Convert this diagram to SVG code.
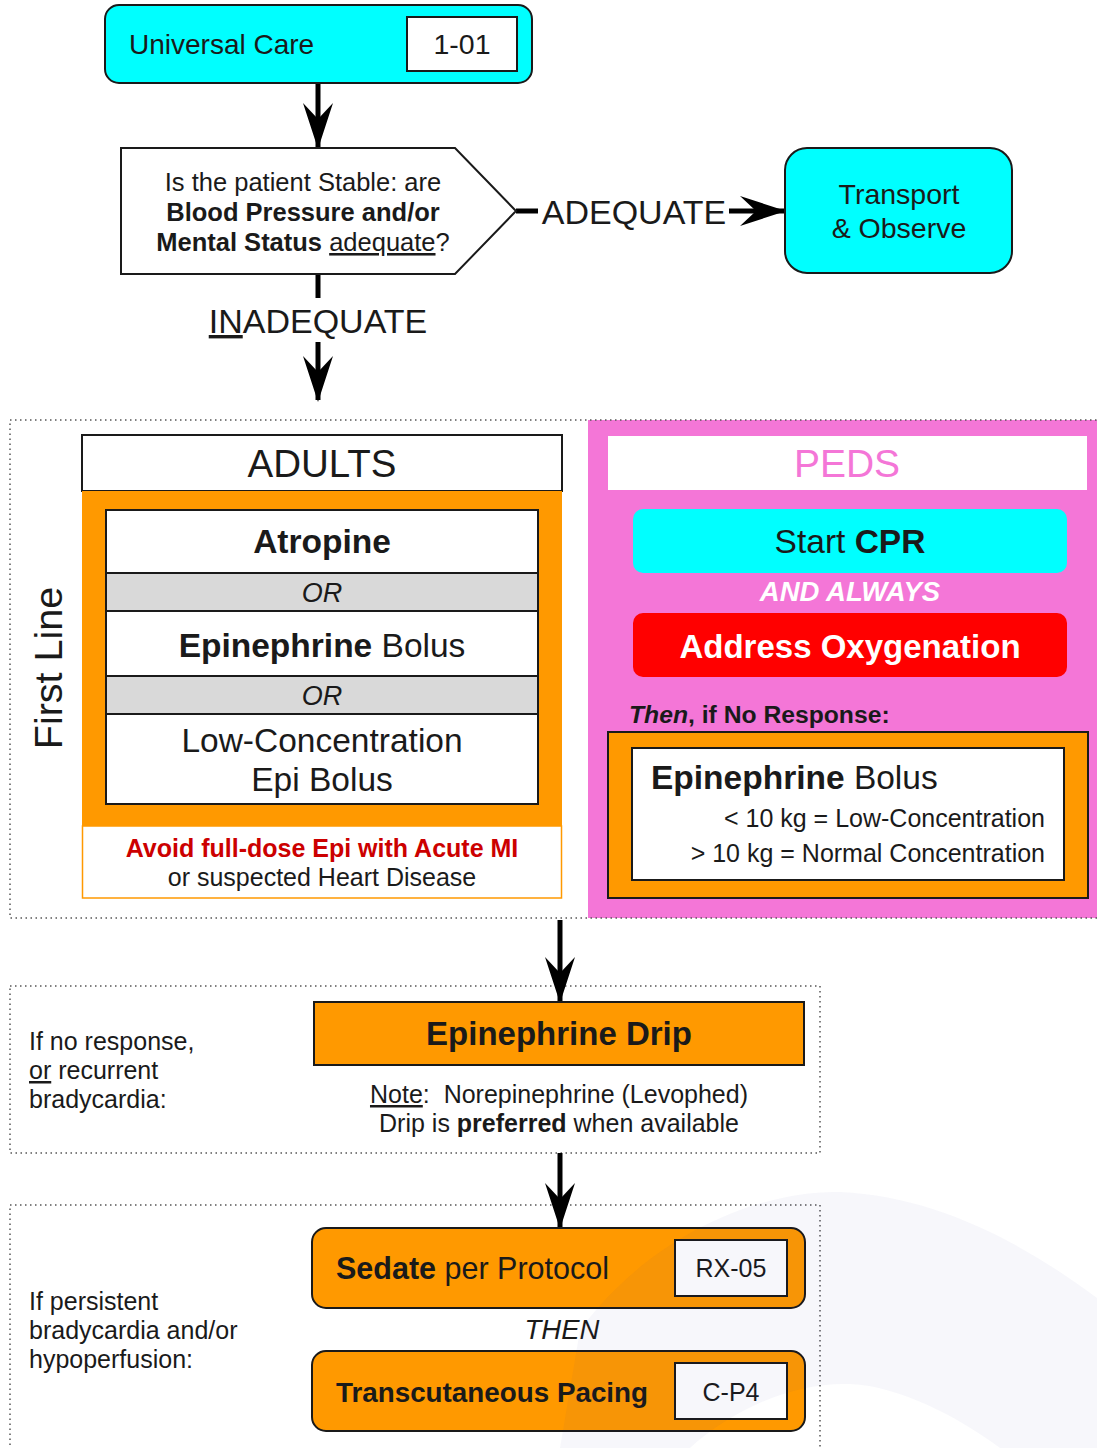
<svg xmlns="http://www.w3.org/2000/svg" width="1097" height="1448" viewBox="0 0 1097 1448">
<style>
  text { font-family: "Liberation Sans", Arial, sans-serif; fill: #1a1a1a; }
  .b { font-weight: bold; }
  .i { font-style: italic; }
  .c { text-anchor: middle; }
  .r { text-anchor: end; }
  .box { stroke: #1a1a1a; stroke-width: 2; }
  .cyan { fill: #00FFFF; }
  .orange { fill: #FF9900; }
  .white { fill: #FFFFFF; }
  .grey { fill: #D9D9D9; }
  .dotted { fill: none; stroke: #555; stroke-width: 1.5; stroke-dasharray: 1.5 3.5; }
  .conn { stroke: #000; stroke-width: 5; fill: none; }
  .u { text-decoration: underline; }
</style>
<defs>
  <marker id="arr" markerUnits="userSpaceOnUse" markerWidth="46" markerHeight="32" viewBox="0 0 46 32" refX="44" refY="16" orient="auto">
    <path d="M0,1 L46,16 L0,31 L16,16 Z" fill="#000"/>
  </marker>
</defs>

<rect width="1097" height="1448" fill="#fff"/>

<!-- section backgrounds -->
<g id="first-line-section">
  <rect x="588" y="420" width="509" height="498" fill="#F476D7"/>
  <rect class="dotted" x="10" y="420" width="1092" height="498"/>
  <text transform="translate(62,668) rotate(-90)" class="c" font-size="39.5">First Line</text>
</g>
<g id="drip-section">
  <rect class="dotted" x="10" y="986" width="810" height="167"/>
  <text x="29" y="1050" font-size="25">If no response,</text>
  <text x="29" y="1079" font-size="25"><tspan class="u">or</tspan> recurrent</text>
  <text x="29" y="1108" font-size="25">bradycardia:</text>
</g>
<g id="pacing-section">
  <rect class="dotted" x="10" y="1205" width="810" height="260"/>
  <text x="29" y="1310" font-size="25">If persistent</text>
  <text x="29" y="1339" font-size="25">bradycardia and/or</text>
  <text x="29" y="1368" font-size="25">hypoperfusion:</text>
</g>

<!-- connectors -->
<g id="connectors">
  <line class="conn" x1="318" y1="83" x2="318" y2="147" marker-end="url(#arr)"/>
  <line class="conn" x1="516" y1="211" x2="538" y2="211"/>
  <line class="conn" x1="729" y1="211" x2="784" y2="211" marker-end="url(#arr)"/>
  <text x="634" y="224" class="c" font-size="34">ADEQUATE</text>
  <line class="conn" x1="318" y1="274" x2="318" y2="298"/>
  <line class="conn" x1="318" y1="342" x2="318" y2="400" marker-end="url(#arr)"/>
  <text x="318" y="333" class="c" font-size="34"><tspan class="u">IN</tspan>ADEQUATE</text>
  <line class="conn" x1="560" y1="920" x2="560" y2="1001" marker-end="url(#arr)"/>
  <line class="conn" x1="560" y1="1153" x2="560" y2="1227" marker-end="url(#arr)"/>
</g>

<!-- nodes -->
<g id="universal-care">
  <rect class="box cyan" x="105" y="5" width="427" height="78" rx="14"/>
  <text x="129" y="54" font-size="28">Universal Care</text>
  <rect class="box white" x="407" y="17" width="110" height="54"/>
  <text x="462" y="54" class="c" font-size="28.5">1-01</text>
</g>

<g id="stable-decision">
  <polygon class="box white" points="121,148 455,148 516,211 455,274 121,274"/>
  <text x="303" y="191" class="c" font-size="25.5">Is the patient Stable: are</text>
  <text x="303" y="221" class="c b" font-size="25.5">Blood Pressure and/or</text>
  <text x="303" y="251" class="c" font-size="25.5"><tspan class="b">Mental Status</tspan> <tspan class="u">adequate</tspan>?</text>
</g>

<g id="transport">
  <rect class="box cyan" x="785" y="148" width="227" height="125" rx="22"/>
  <text x="899" y="204" class="c" font-size="28.5">Transport</text>
  <text x="899" y="238" class="c" font-size="28.5">&amp; Observe</text>
</g>

<g id="adults">
  <rect class="box white" x="82" y="435" width="480" height="56"/>
  <text x="322" y="477" class="c" font-size="38.5">ADULTS</text>
  <rect class="orange" x="82" y="491" width="480" height="335"/>
  <rect x="82.5" y="826" width="479" height="72" fill="#fff" stroke="#FF9900" stroke-width="1.5"/>
  <text x="322" y="857" class="c b" font-size="25" style="fill:#CC0000">Avoid full-dose Epi with Acute MI</text>
  <text x="322" y="886" class="c" font-size="25">or suspected Heart Disease</text>
  <rect class="box white" x="106" y="510" width="432" height="294"/>
  <rect class="box grey" x="106" y="573" width="432" height="38"/>
  <rect class="box grey" x="106" y="676" width="432" height="38"/>
  <text x="322" y="553" class="c b" font-size="33.5">Atropine</text>
  <text x="322" y="602" class="c i" font-size="27">OR</text>
  <text x="322" y="657" class="c" font-size="33.5"><tspan class="b">Epinephrine</tspan> Bolus</text>
  <text x="322" y="705" class="c i" font-size="27">OR</text>
  <text x="322" y="752" class="c" font-size="33.5">Low-Concentration</text>
  <text x="322" y="791" class="c" font-size="33.5">Epi Bolus</text>
</g>

<g id="peds">
  <rect class="white" x="608" y="436" width="479" height="54"/>
  <text x="847" y="477" class="c" font-size="39" style="fill:#F476D7">PEDS</text>
  <rect class="cyan" x="633" y="509" width="434" height="64" rx="10"/>
  <text x="850" y="553" class="c" font-size="33.5">Start <tspan class="b">CPR</tspan></text>
  <text x="850" y="601" class="c b i" font-size="27.5" style="fill:#fff">AND ALWAYS</text>
  <rect x="633" y="613" width="434" height="64" rx="10" fill="#FF0000"/>
  <text x="850" y="658" class="c b" font-size="33" style="fill:#fff">Address Oxygenation</text>
  <text x="629" y="723" class="b" font-size="24.7"><tspan class="i">Then</tspan>, if No Response:</text>
  <rect class="box orange" x="608" y="732" width="480" height="166"/>
  <rect class="box white" x="632" y="748" width="432" height="132"/>
  <text x="651" y="789" font-size="33.5"><tspan class="b">Epinephrine</tspan> Bolus</text>
  <text x="1045" y="827" class="r" font-size="25">&lt; 10 kg = Low-Concentration</text>
  <text x="1045" y="862" class="r" font-size="25">&gt; 10 kg = Normal Concentration</text>
</g>

<g id="epinephrine-drip">
  <rect class="box orange" x="314" y="1002" width="490" height="63"/>
  <text x="559" y="1045" class="c b" font-size="33">Epinephrine Drip</text>
  <text x="559" y="1103" class="c" font-size="25" xml:space="preserve"><tspan class="u">Note</tspan>:  Norepinephrine (Levophed)</text>
  <text x="559" y="1132" class="c" font-size="25">Drip is <tspan class="b">preferred</tspan> when available</text>
</g>

<g id="sedate">
  <rect class="box orange" x="312" y="1228" width="493" height="80" rx="14"/>
  <text x="336" y="1279" font-size="30.5"><tspan class="b">Sedate</tspan> per Protocol</text>
  <rect class="box white" x="675" y="1240" width="112" height="56"/>
  <text x="731" y="1277" class="c" font-size="25">RX-05</text>
</g>

<text x="562" y="1339" class="c i" font-size="27.5">THEN</text>

<g id="pacing">
  <rect class="box orange" x="312" y="1351" width="493" height="80" rx="14"/>
  <text x="336" y="1402" class="b" font-size="27.8">Transcutaneous Pacing</text>
  <rect class="box white" x="675" y="1363" width="112" height="56"/>
  <text x="731" y="1401" class="c" font-size="25">C-P4</text>
</g>

<!-- faint watermark -->
<path d="M580,1330 C650,1235 760,1190 840,1192 C940,1196 1030,1248 1097,1298 L1097,1448 L1000,1448 C960,1418 900,1386 850,1384 C790,1382 730,1412 690,1448 L560,1448 Z" fill="#2a2a90" opacity="0.04"/>
</svg>
